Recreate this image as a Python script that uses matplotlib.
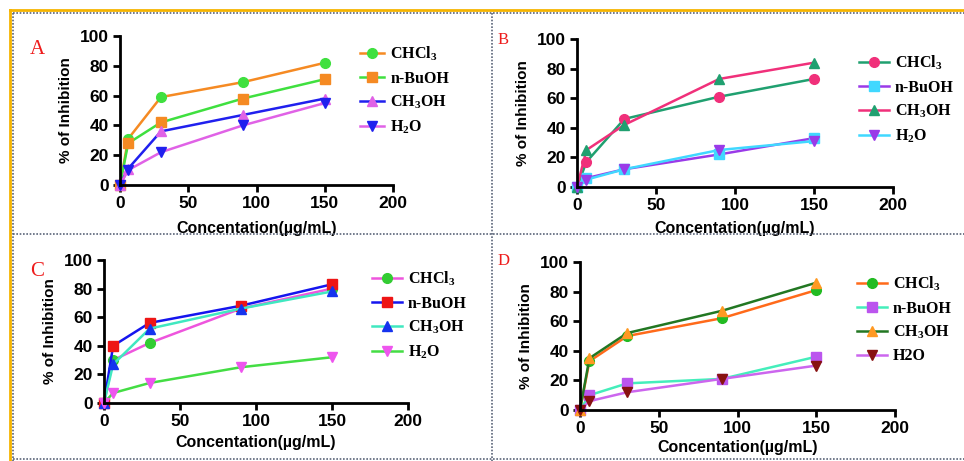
import matplotlib.pyplot as plt
from matplotlib.lines import Line2D

plt.rcParams['font.family'] = ['Liberation Sans', 'DejaVu Sans']
plt.rcParams['mathtext.default'] = 'regular'

# concentrations (ug/mL)
conc = [0, 6, 30, 90, 150]
labels = ['CHCl$_3$', 'n-BuOH', 'CH$_3$OH', 'H$_2$O']
labels_d = ['CHCl$_3$', 'n-BuOH', 'CH$_3$OH', 'H2O']

# % of inhibition
a_chcl3 = [0, 31, 59, 69, 82]
a_buoh = [0, 28, 42, 58, 71]
a_meoh = [0, 11, 36, 47, 58]
a_h2o = [0, 10, 22, 40, 55]

b_chcl3 = [0, 17, 46, 61, 73]
b_buoh = [0, 6, 12, 22, 33]
b_meoh = [0, 25, 42, 73, 84]
b_h2o = [0, 5, 12, 25, 31]

c_chcl3 = [0, 30, 42, 66, 80]
c_buoh = [0, 40, 56, 68, 83]
c_meoh = [0, 27, 52, 66, 78]
c_h2o = [0, 7, 14, 25, 32]

d_chcl3 = [0, 33, 50, 62, 81]
d_buoh = [0, 10, 18, 21, 36]
d_meoh = [0, 35, 52, 67, 86]
d_h2o = [0, 6, 12, 21, 30]

markers = ['o', 's', '^', 'v']

W, H = 964, 461
fig = plt.figure(figsize=(W / 100, H / 100), dpi=100)


def rect(x0, y0, x1, y1):
    return [x0 / W, 1 - y1 / H, (x1 - x0) / W, (y1 - y0) / H]


panels = [
    # letter, axes box, letter pos, letter size, series, line colors, marker colors, legend pos, handle len, xlabel pad, labels
    ('A', (120, 36, 393, 185), (30, 40), 15, [a_chcl3, a_buoh, a_meoh, a_h2o],
     ['#f58a23', '#3fe03f', '#2020ee', '#e062e6'],
     ['#3fe03f', '#f58a23', '#e062e6', '#2020ee'], (360, 45), 1.5, 7, labels),
    ('B', (577, 39, 893, 187), (498, 32), 12, [b_chcl3, b_buoh, b_meoh, b_h2o],
     ['#20a070', '#9a3ae8', '#f0307a', '#40d8ff'],
     ['#f0307a', '#40d8ff', '#20a070', '#9a3ae8'], (859, 54), 1.85, 6, labels),
    ('C', (104, 260, 408, 403), (30, 262), 15, [c_chcl3, c_buoh, c_meoh, c_h2o],
     ['#ee55dd', '#1515ee', '#40e8c0', '#44dd44'],
     ['#33cc33', '#ee1515', '#1533ee', '#ee55ee'], (372, 270), 1.85, 4, labels),
    ('D', (580, 262, 895, 410), (498, 253), 12, [d_chcl3, d_buoh, d_meoh, d_h2o],
     ['#ff6a1a', '#44eebb', '#227722', '#cc66ee'],
     ['#22bb22', '#bb55ee', '#ff9922', '#881111'], (857, 275), 1.85, 3, labels_d),
]

for letter, box, lpos, lsize, series, lcols, mcols, legpos, hlen, xpad, labs in panels:
    ax = fig.add_axes(rect(*box))
    handles = []
    for ys, m, lc, mc, lab in zip(series, markers, lcols, mcols, labs):
        ms = 7.5 if m in ('^', 'v') else 7
        ax.plot(conc, ys, color=lc, lw=1.8, marker=m, ms=ms, mfc=mc, mec=mc, clip_on=False)
        handles.append(Line2D([], [], color=lc, lw=1.8, marker=m, ms=ms, mfc=mc, mec=mc, label=lab))
    ax.set_xlim(0, 200)
    ax.set_ylim(0, 100)
    ax.set_xticks([0, 50, 100, 150, 200])
    ax.set_yticks([0, 20, 40, 60, 80, 100])
    for s in ['top', 'right']:
        ax.spines[s].set_visible(False)
    for s in ['left', 'bottom']:
        ax.spines[s].set_linewidth(2)
    ax.tick_params(direction='out', length=5, width=2, labelsize=12.5, pad=3)
    for t in ax.get_xticklabels() + ax.get_yticklabels():
        t.set_fontweight('bold')
    ax.set_xlabel('Concentation(µg/mL)', fontsize=11.5, fontweight='bold', labelpad=xpad)
    ax.set_ylabel('% of Inhibition', fontsize=11, fontweight='bold', labelpad=5)
    ax.legend(handles=handles, loc='upper left',
              bbox_to_anchor=(legpos[0] / W, 1 - legpos[1] / H),
              bbox_transform=fig.transFigure, frameon=False, borderpad=0,
              borderaxespad=0, handlelength=hlen, handletextpad=0.4, labelspacing=0.45,
              prop={'family': 'Liberation Serif', 'weight': 'bold', 'size': 11.5})
    fig.text(lpos[0] / W, 1 - lpos[1] / H, letter, color='#ee1c1c',
             family='Liberation Serif', fontsize=lsize, ha='left', va='top')

# panel frames
def fline(x0, y0, x1, y1, **kw):
    fig.add_artist(Line2D([x0 / W, x1 / W], [1 - y0 / H, 1 - y1 / H],
                          transform=fig.transFigure, zorder=10, **kw))


gold = dict(color='#f5b400', lw=2)
fline(10, 10, W, 10, **gold)
fline(10, 10, 10, H, **gold)
dot = dict(color='#5a6478', lw=1.2, ls=(0, (1, 1)))
fline(13, 13, W, 13, **dot)
fline(13, 13, 13, H, **dot)
fline(492, 13, 492, H, **dot)
fline(13, 234, W, 234, **dot)
fline(13, 459, W, 459, **dot)

fig.savefig('out.png', dpi=100)
